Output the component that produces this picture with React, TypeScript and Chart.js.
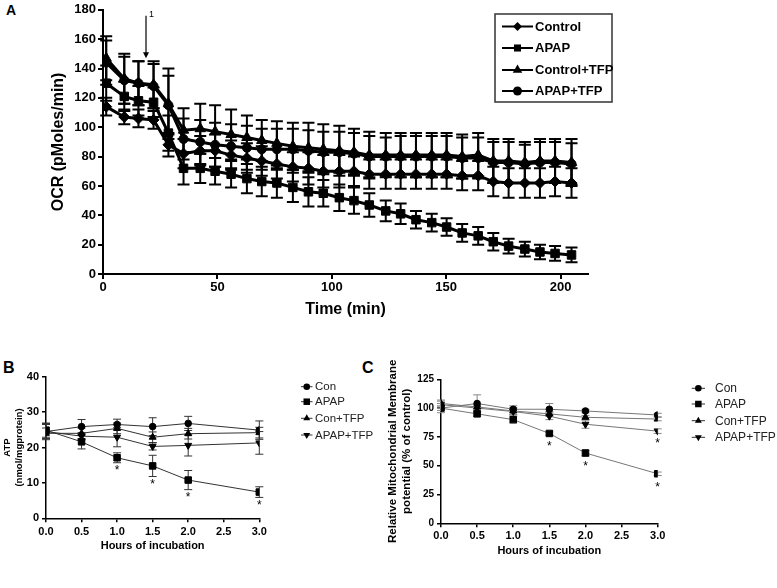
import React, { useEffect, useRef } from 'react';
import { Chart, registerables } from 'chart.js';
Chart.register(...registerables);

const FONT = '"Liberation Sans", Arial, Helvetica, sans-serif';

// ---------------- Panel A : OCR (pMoles/min) ----------------
const timeA = [1.4, 9.3, 15.5, 22.1, 28.6, 35.2, 42.5, 49.0, 56.0, 62.9, 69.4, 76.0, 83.0, 89.8, 96.3, 103.3, 109.7, 116.4, 123.6, 130.1, 136.8, 143.7, 150.2, 157.0, 164.0, 170.6, 177.3, 184.4, 191.0, 197.6, 204.8];
const ocrControl = [114, 107, 106, 105, 88, 82, 84, 84, 81, 79, 77, 75, 73, 72, 70, 70, 70, 68, 68, 68, 68, 68, 68, 67, 67, 63, 62, 62, 62, 63, 62];
const ocrControlErr = [6, 5, 6, 6, 8, 10, 10, 11, 10, 10, 10, 10, 10, 11, 11, 11, 10, 10, 10, 10, 10, 10, 10, 10, 10, 10, 10, 10, 10, 10, 10];
const ocrApap = [130, 121, 118, 117, 96, 72, 72, 70, 68, 65, 63, 62, 59, 56, 55, 52, 50, 47, 43, 41, 37, 35, 32, 28, 26, 22, 19, 17, 15, 14, 13];
const ocrApapErr = [12, 10, 10, 10, 12, 11, 10, 9, 9, 10, 10, 10, 10, 10, 9, 9, 9, 8, 7, 7, 6, 6, 6, 6, 6, 6, 5, 5, 5, 5, 5];
const ocrControlTfp = [147, 133, 130, 129, 116, 98, 99, 97, 95, 93, 91, 89, 87, 86, 85, 84, 83, 81, 81, 81, 81, 81, 81, 80, 81, 77, 77, 76, 77, 77, 76];
const ocrControlTfpErr = [15, 17, 15, 16, 24, 15, 17, 18, 17, 15, 14, 15, 16, 17, 17, 17, 16, 16, 15, 15, 15, 15, 15, 15, 15, 15, 15, 14, 15, 15, 16];
const ocrApapTfp = [144, 132, 130, 128, 115, 92, 90, 88, 87, 86, 85, 85, 85, 84, 83, 83, 82, 80, 80, 80, 80, 80, 80, 79, 79, 76, 76, 75, 76, 76, 75];
const ocrApapTfpErr = [15, 16, 15, 15, 20, 14, 15, 15, 15, 15, 14, 14, 14, 14, 14, 14, 14, 14, 13, 14, 14, 14, 14, 14, 14, 14, 14, 13, 14, 14, 14];
const ticksAX = [0, 50, 100, 150, 200];
const ticksAY = [0, 20, 40, 60, 80, 100, 120, 140, 160, 180];
const labelsA = ['Control', 'APAP', 'Control+TFP', 'APAP+TFP'];
const arrowA = { time: 18.8, from: 176, to: 147, label: '1' };

// ---------------- Panel B : ATP ----------------
const hours = [0, 0.5, 1.0, 1.5, 2.0, 3.0];
const atpCon = [24.5, 25.9, 26.5, 25.9, 26.8, 24.9];
const atpConErr = [2.3, 2.0, 1.5, 2.5, 2.0, 2.6];
const atpApap = [24.9, 21.6, 17.1, 14.8, 10.8, 7.4];
const atpApapErr = [2.0, 2.0, 1.4, 3.0, 2.7, 1.5];
const atpConTfp = [24.0, 24.0, 25.4, 22.9, 23.9, 24.2];
const atpConTfpErr = [1.5, 1.5, 1.5, 1.5, 1.5, 1.5];
const atpApapTfp = [24.5, 23.2, 22.9, 20.3, 20.6, 21.3];
const atpApapTfpErr = [2.0, 1.0, 2.7, 1.0, 3.0, 3.2];
const ticksHours = [0, 0.5, 1.0, 1.5, 2.0, 2.5, 3.0];
const ticksBY = [0, 10, 20, 30, 40];
const labelsBC = ['Con', 'APAP', 'Con+TFP', 'APAP+TFP'];
const starsB = [{ ds: 1, i: 2 }, { ds: 1, i: 3 }, { ds: 1, i: 4 }, { ds: 1, i: 5 }];

// ---------------- Panel C : membrane potential ----------------
const mmpCon = [100, 104, 99, 99, 97.5, 94];
const mmpConErr = [4, 7.5, 3, 5, 1.5, 1.5];
const mmpApap = [100, 95, 90, 78, 61, 43];
const mmpApapErr = [2, 2, 3, 1.5, 2.5, 1.5];
const mmpConTfp = [104, 101, 97.5, 95, 92, 90.5];
const mmpConTfpErr = [3, 2, 3, 2, 1.5, 1.5];
const mmpApapTfp = [103, 100, 97, 93, 86, 80];
const mmpApapTfpErr = [3, 2, 3, 3, 3.5, 2];
const ticksCY = [0, 25, 50, 75, 100, 125];
const starsC = [{ ds: 1, i: 3 }, { ds: 1, i: 4 }, { ds: 1, i: 5 }, { ds: 3, i: 5 }];

// ---------------- helpers ----------------
type Kind = 'diamond' | 'square' | 'triangle' | 'circle' | 'down';

function drawMarker(ctx: CanvasRenderingContext2D, kind: Kind, x: number, y: number, r: number) {
  ctx.beginPath();
  if (kind === 'diamond') {
    ctx.moveTo(x - r, y); ctx.lineTo(x, y - r); ctx.lineTo(x + r, y); ctx.lineTo(x, y + r); ctx.closePath();
  } else if (kind === 'square') {
    const s = r * Math.SQRT1_2;
    ctx.rect(x - s, y - s, 2 * s, 2 * s);
  } else if (kind === 'circle') {
    ctx.arc(x, y, r, 0, Math.PI * 2);
  } else {
    const sgn = kind === 'down' ? -1 : 1;
    for (let k = 0; k < 3; k++) {
      const a = (k * 2 * Math.PI) / 3;
      const px = x + Math.sin(a) * r;
      const py = y - sgn * Math.cos(a) * r;
      if (k === 0) ctx.moveTo(px, py); else ctx.lineTo(px, py);
    }
    ctx.closePath();
  }
  ctx.fill();
}

function pointStyleOf(kind: Kind) {
  switch (kind) {
    case 'diamond': return { pointStyle: 'rectRot', pointRotation: 0 };
    case 'square': return { pointStyle: 'rect', pointRotation: 0 };
    case 'triangle': return { pointStyle: 'triangle', pointRotation: 0 };
    case 'down': return { pointStyle: 'triangle', pointRotation: 180 };
    default: return { pointStyle: 'circle', pointRotation: 0 };
  }
}

function makeDataset(label: string, xs: number[], ys: number[], errs: number[], kind: Kind, r: number, lineColor: string, lineWidth: number) {
  return {
    label,
    data: xs.map((x, i) => ({ x, y: ys[i] })),
    errors: errs,
    kind,
    markerR: r,
    borderColor: lineColor,
    borderWidth: lineWidth,
    backgroundColor: '#000',
    pointBackgroundColor: '#000',
    pointBorderColor: '#000',
    pointBorderWidth: 1,
    pointRadius: r,
    tension: 0,
    fill: false,
    ...pointStyleOf(kind),
  };
}

const errorBarPlugin = {
  id: 'errorBars',
  beforeDatasetsDraw(chart: any, _a: any, opts: any) {
    const { ctx } = chart;
    const xs = chart.scales.x, ys = chart.scales.y;
    ctx.save();
    ctx.strokeStyle = opts.color || '#000';
    ctx.lineWidth = opts.width || 1;
    chart.data.datasets.forEach((ds: any) => {
      const errs: number[] = ds.errors;
      if (!errs) return;
      ds.data.forEach((p: any, j: number) => {
        const e = errs[j];
        if (!e) return;
        const x = xs.getPixelForValue(p.x);
        const yt = ys.getPixelForValue(p.y + e);
        const yb = ys.getPixelForValue(p.y - e);
        const c = opts.cap || 4;
        ctx.beginPath();
        ctx.moveTo(x, yt); ctx.lineTo(x, yb);
        ctx.moveTo(x - c, yt); ctx.lineTo(x + c, yt);
        ctx.moveTo(x - c, yb); ctx.lineTo(x + c, yb);
        ctx.stroke();
      });
    });
    ctx.restore();
  },
};

const legendPlugin = {
  id: 'customLegend',
  afterDraw(chart: any, _a: any, opts: any) {
    if (!opts || !opts.ys) return;
    const { ctx } = chart;
    ctx.save();
    if (opts.box) {
      ctx.strokeStyle = opts.box.color;
      ctx.lineWidth = opts.box.width;
      ctx.strokeRect(opts.box.l, opts.box.t, opts.box.r - opts.box.l, opts.box.b - opts.box.t);
    }
    chart.data.datasets.forEach((ds: any, i: number) => {
      const y = opts.ys[i];
      ctx.strokeStyle = opts.lineColor;
      ctx.lineWidth = opts.lineWidth;
      ctx.beginPath();
      ctx.moveTo(opts.x0, y); ctx.lineTo(opts.x1, y);
      ctx.stroke();
      ctx.fillStyle = '#000';
      drawMarker(ctx, ds.kind, (opts.x0 + opts.x1) / 2, y, opts.markerR ? opts.markerR[i] : ds.markerR);
      ctx.fillStyle = opts.textColor;
      ctx.font = opts.font;
      ctx.textAlign = 'left';
      ctx.textBaseline = 'middle';
      ctx.fillText(ds.label, opts.textX, y + 0.5);
    });
    ctx.restore();
  },
};

const starPlugin = {
  id: 'stars',
  afterDatasetsDraw(chart: any, _a: any, opts: any) {
    if (!opts || !opts.marks) return;
    const { ctx } = chart;
    const xs = chart.scales.x, ys = chart.scales.y;
    ctx.save();
    ctx.fillStyle = '#000';
    ctx.font = opts.font;
    ctx.textAlign = 'center';
    ctx.textBaseline = 'top';
    opts.marks.forEach((m: any) => {
      const ds = chart.data.datasets[m.ds];
      const p = ds.data[m.i];
      const bottom = Math.max(ys.getPixelForValue(p.y - ds.errors[m.i]), ys.getPixelForValue(p.y) + ds.markerR);
      ctx.fillText('*', xs.getPixelForValue(p.x), bottom + opts.gap);
    });
    ctx.restore();
  },
};

const arrowPlugin = {
  id: 'arrow',
  afterDraw(chart: any, _a: any, opts: any) {
    if (!opts || opts.time === undefined) return;
    const { ctx } = chart;
    const x = chart.scales.x.getPixelForValue(opts.time);
    const y0 = chart.scales.y.getPixelForValue(opts.from);
    const y1 = chart.scales.y.getPixelForValue(opts.to);
    ctx.save();
    ctx.strokeStyle = '#000';
    ctx.fillStyle = '#000';
    ctx.lineWidth = 1.2;
    ctx.beginPath();
    ctx.moveTo(x, y0); ctx.lineTo(x, y1 - 5);
    ctx.stroke();
    ctx.beginPath();
    ctx.moveTo(x - 3, y1 - 6); ctx.lineTo(x + 3, y1 - 6); ctx.lineTo(x, y1); ctx.closePath();
    ctx.fill();
    ctx.font = `9px ${FONT}`;
    ctx.textAlign = 'left';
    ctx.textBaseline = 'middle';
    ctx.fillText(opts.label, x + 3, y0 - 1);
    ctx.restore();
  },
};

function fixedTicks(values: number[]) {
  return (s: any) => { s.ticks = values.map((v) => ({ value: v })); };
}

function linearAxis(o: any) {
  return {
    type: 'linear',
    min: o.min,
    max: o.max,
    afterBuildTicks: fixedTicks(o.ticks),
    afterFit: o.horizontal ? (s: any) => { s.height = o.size; } : (s: any) => { s.width = o.size; },
    grid: { display: true, drawOnChartArea: false, drawTicks: true, tickLength: o.tickLength, color: '#000', lineWidth: o.lw },
    border: { display: true, color: '#000', width: o.lw },
    ticks: {
      color: '#000',
      autoSkip: false,
      maxRotation: 0,
      padding: o.tickPad,
      font: { family: FONT, size: o.tickSize, weight: 'bold' },
      callback: o.fmt ? (v: any) => Number(v).toFixed(1) : (v: any) => String(v),
    },
    title: {
      display: true,
      text: o.title,
      color: '#000',
      font: { family: FONT, size: o.titleSize, weight: 'bold', lineHeight: o.titleLH },
      padding: o.titlePad,
    },
  };
}

function baseOptions(padding: any, x: any, y: any, plugins: any) {
  return {
    responsive: false,
    maintainAspectRatio: false,
    animation: false,
    devicePixelRatio: 1,
    events: [],
    layout: { padding },
    scales: { x, y },
    plugins: { legend: { display: false }, tooltip: { enabled: false }, title: { display: false }, ...plugins },
  };
}

// ---------------- chart configs ----------------
function configA() {
  const datasets = [
    makeDataset(labelsA[0], timeA, ocrControl, ocrControlErr, 'diamond', 5.5, '#000', 3),
    makeDataset(labelsA[1], timeA, ocrApap, ocrApapErr, 'square', 6, '#000', 3),
    makeDataset(labelsA[2], timeA, ocrControlTfp, ocrControlTfpErr, 'triangle', 6, '#000', 3),
    makeDataset(labelsA[3], timeA, ocrApapTfp, ocrApapTfpErr, 'circle', 4.5, '#000', 3),
  ];
  return {
    type: 'line',
    data: { datasets },
    options: baseOptions(
      { top: 6, right: 32, left: 0, bottom: 0 },
      linearAxis({ horizontal: true, min: 0, max: 212, ticks: ticksAX, size: 56, tickLength: 5, lw: 2, tickPad: 1, tickSize: 13, title: 'Time (min)', titleSize: 16, titleLH: 1.2, titlePad: { top: 0, bottom: 11 } }),
      linearAxis({ horizontal: false, min: 0, max: 180, ticks: ticksAY, size: 103, tickLength: 5, lw: 2, tickPad: 2, tickSize: 13, title: 'OCR (pMoles/min)', titleSize: 16, titleLH: 1.2, titlePad: { top: 49, bottom: 0 } }),
      {
        errorBars: { color: '#000', width: 2, cap: 6 },
        customLegend: {
          box: { l: 495, t: 14, r: 612, b: 102, color: '#333', width: 1.5 },
          ys: [26.5, 48, 70, 91],
          x0: 502, x1: 533, textX: 535,
          markerR: [4.5, 5, 5.5, 4.5],
          lineColor: '#000', lineWidth: 2,
          textColor: '#000', font: `bold 13px ${FONT}`,
        },
        arrow: arrowA,
      }
    ),
    plugins: [errorBarPlugin, legendPlugin, arrowPlugin],
  };
}

function configB() {
  const lc = '#333';
  const datasets = [
    makeDataset(labelsBC[0], hours, atpCon, atpConErr, 'circle', 3.3, lc, 1),
    makeDataset(labelsBC[1], hours, atpApap, atpApapErr, 'square', 4.6, lc, 1),
    makeDataset(labelsBC[2], hours, atpConTfp, atpConTfpErr, 'triangle', 4, lc, 1),
    makeDataset(labelsBC[3], hours, atpApapTfp, atpApapTfpErr, 'down', 4, lc, 1),
  ];
  return {
    type: 'line',
    data: { datasets },
    options: baseOptions(
      { top: 16.7, right: 130.7, left: 0, bottom: 0 },
      linearAxis({ horizontal: true, min: 0, max: 3, ticks: ticksHours, size: 41.7, tickLength: 4, lw: 1.5, tickPad: 3, tickSize: 11, fmt: true, title: 'Hours of incubation', titleSize: 11, titleLH: 1.2, titlePad: { top: 0, bottom: 7.4 } }),
      linearAxis({ horizontal: false, min: 0, max: 40, ticks: ticksBY, size: 46, tickLength: 4, lw: 1.5, tickPad: 3, tickSize: 11, title: ['ATP', '(nmol/mgprotein)'], titleSize: 9.5, titleLH: 12 / 9.5, titlePad: { top: 1.2, bottom: 0 } }),
      {
        errorBars: { color: '#333', width: 1, cap: 4 },
        customLegend: {
          ys: [26.7, 41.7, 58.3, 75],
          x0: 301, x1: 312.5, textX: 315,
          markerR: [3.3, 4.6, 4, 4],
          lineColor: '#333', lineWidth: 1,
          textColor: '#222', font: `11.5px ${FONT}`,
        },
        stars: { marks: starsB, gap: 2, font: `12px ${FONT}` },
      }
    ),
    plugins: [errorBarPlugin, legendPlugin, starPlugin],
  };
}

function configC() {
  const lc = '#777';
  const datasets = [
    makeDataset(labelsBC[0], hours, mmpCon, mmpConErr, 'circle', 3.3, lc, 1),
    makeDataset(labelsBC[1], hours, mmpApap, mmpApapErr, 'square', 4.6, lc, 1),
    makeDataset(labelsBC[2], hours, mmpConTfp, mmpConTfpErr, 'triangle', 4, lc, 1),
    makeDataset(labelsBC[3], hours, mmpApapTfp, mmpApapTfpErr, 'down', 4, lc, 1),
  ];
  return {
    type: 'line',
    data: { datasets },
    options: baseOptions(
      { top: 19.3, right: 119.3, left: 0, bottom: 0 },
      linearAxis({ horizontal: true, min: 0, max: 3, ticks: ticksHours, size: 41.7, tickLength: 4, lw: 1.5, tickPad: 2, tickSize: 11, fmt: true, title: 'Hours of incubation', titleSize: 11, titleLH: 1.2, titlePad: { top: 0, bottom: 7.7 } }),
      linearAxis({ horizontal: false, min: 0, max: 125, ticks: ticksCY, size: 61, tickLength: 4, lw: 1.5, tickPad: 3, tickSize: 10, title: ['Relative Mitochondrial Membrane', 'potential (% of control)'], titleSize: 11.5, titleLH: 13.5 / 11.5, titlePad: { top: 6.25, bottom: 0 } }),
      {
        errorBars: { color: '#888', width: 1, cap: 4 },
        customLegend: {
          ys: [28.3, 44, 60.7, 77.3],
          x0: 311.7, x1: 325, textX: 335,
          markerR: [3.3, 4.6, 4, 4],
          lineColor: '#333', lineWidth: 1,
          textColor: '#222', font: `12px ${FONT}`,
        },
        stars: { marks: starsC, gap: 3, font: `12px ${FONT}` },
      }
    ),
    plugins: [errorBarPlugin, legendPlugin, starPlugin],
  };
}

function ChartCanvas({ make, left, top, width, height }: { make: () => any; left: number; top: number; width: number; height: number }) {
  const ref = useRef<HTMLCanvasElement>(null);
  useEffect(() => {
    const chart = new Chart(ref.current as HTMLCanvasElement, make());
    return () => chart.destroy();
  }, []);
  return (
    <canvas
      ref={ref}
      width={width}
      height={height}
      style={{ position: 'absolute', left, top, width, height, display: 'block' }}
    />
  );
}

const panelLabel = (text: string, left: number, top: number, size: number) => (
  <div style={{ position: 'absolute', left, top, fontFamily: FONT, fontWeight: 'bold', fontSize: size, lineHeight: 1, color: '#000' }}>{text}</div>
);

export default function App() {
  return (
    <div style={{ position: 'absolute', left: 0, top: 0, width: 777, height: 588, background: '#fff', overflow: 'hidden' }}>
      {panelLabel('A', 6, 3.2, 14)}
      {panelLabel('B', 3, 359.7, 16)}
      {panelLabel('C', 362, 359.7, 16)}
      <ChartCanvas make={configA} left={0} top={0} width={620} height={330} />
      <ChartCanvas make={configB} left={0} top={360} width={390} height={200} />
      <ChartCanvas make={configC} left={380} top={360} width={397} height={205} />
    </div>
  );
}
